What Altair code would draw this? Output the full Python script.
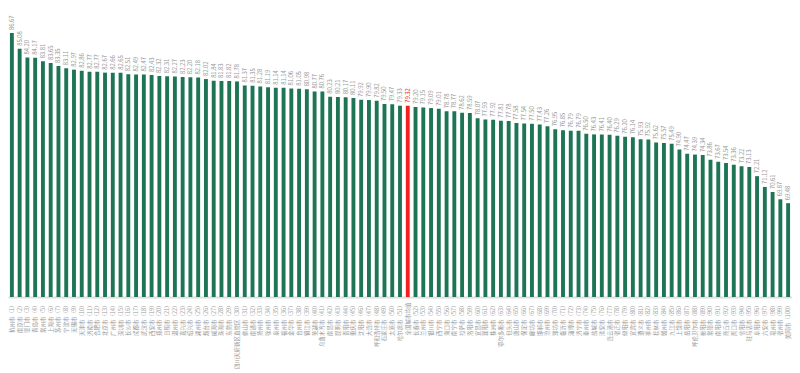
import altair as alt
import pandas as pd

cities = [
    "杭州市", "南京市", "厦门市", "青岛市", "常州市", "上海市", "苏州市", "宁波市", "无锡市", "天津市",
    "济南市", "合肥市", "北京市", "广州市", "深圳市", "长沙市", "成都市", "武汉市", "西安市", "郑州市",
    "日照市", "温州市", "嘉兴市", "绍兴市", "湖州市", "烟台市", "威海市", "珠海市", "东莞市", "四川天府新区直管区",
    "佛山市", "南通市", "扬州市", "徐州市", "泉州市", "福州市", "金华市", "台州市", "镇江市", "芜湖市",
    "乌鲁木齐市", "南昌市", "昆明市", "贵阳市", "重庆市", "沈阳市", "大连市", "呼和浩特市", "石家庄市", "太原市",
    "哈尔滨市", "长春市", "兰州市", "银川市", "西宁市", "海口市", "南宁市", "拉萨市", "洛阳市", "宜昌市",
    "襄阳市", "株洲市", "鄂尔多斯市", "包头市", "唐山市", "保定市", "廊坊市", "邯郸市", "沧州市", "潍坊市",
    "临沂市", "淄博市", "济宁市", "泰州市", "盐城市", "淮安市", "连云港市", "宿迁市", "绵阳市", "宜宾市",
    "遵义市", "柳州市", "桂林市", "赣州市", "九江市", "上饶市", "岳阳市", "呼伦贝尔市", "衡阳市", "常德市",
    "南阳市", "商丘市", "周口市", "信阳市", "驻马店市", "阜阳市", "六安市", "亳州市", "宿州市", "黄冈市",
]
ranks = list(range(1, 101))
scores = [
    86.67, 85.08, 84.20, 84.17, 83.81, 83.65, 83.35, 83.11, 82.97, 82.86,
    82.77, 82.77, 82.67, 82.66, 82.65, 82.51, 82.49, 82.47, 82.43, 82.32,
    82.31, 82.27, 82.23, 82.20, 82.18, 82.02, 81.84, 81.83, 81.82, 81.78,
    81.37, 81.35, 81.28, 81.19, 81.14, 81.14, 81.06, 81.05, 80.98, 80.77,
    80.76, 80.23, 80.21, 80.17, 80.11, 79.92, 79.90, 79.82, 79.50, 79.47,
    79.33, 79.20, 79.15, 79.09, 79.01, 78.78, 78.77, 78.62, 78.59, 78.07,
    77.93, 77.92, 77.81, 77.78, 77.58, 77.54, 77.50, 77.43, 77.26, 76.95,
    76.85, 76.79, 76.79, 76.50, 76.43, 76.41, 76.40, 76.29, 76.20, 76.14,
    75.93, 75.92, 75.62, 75.57, 75.49, 74.90, 74.47, 74.39, 74.34, 73.86,
    73.67, 73.54, 73.36, 73.22, 73.13, 72.21, 71.12, 70.61, 69.87, 69.48,
]
avg_label = "全国城市均值"
avg_value = 79.32
avg_after_rank = 51

labels = [f"{c}（{r}）" for c, r in zip(cities, ranks)]
labels = labels[:avg_after_rank] + [avg_label] + labels[avg_after_rank:]
values = scores[:avg_after_rank] + [avg_value] + scores[avg_after_rank:]
kinds = ["city"] * avg_after_rank + ["avg"] + ["city"] * (100 - avg_after_rank)
df = pd.DataFrame({"label": labels, "value": values, "kind": kinds})

FONT = "Noto Sans CJK SC"

x = alt.X(
    "label:N",
    sort=None,
    scale=alt.Scale(paddingInner=0.5, paddingOuter=0.25),
    axis=alt.Axis(
        title=None, labelAngle=-90, labelFontSize=5.5, labelColor="#999999",
        labelFont=FONT, ticks=False, domainColor="#dddddd", domainWidth=2,
        labelPadding=5, labelOverlap=False, labelLimit=200,
    ),
)
y = alt.Y("value:Q", scale=alt.Scale(domain=[60, 89.2], nice=False, zero=False), axis=None)

bars = alt.Chart(df).mark_bar().encode(
    x=x,
    y=y,
    y2=alt.datum(60),
    color=alt.Color(
        "kind:N",
        scale=alt.Scale(domain=["city", "avg"], range=["#1d7556", "#f2201e"]),
        legend=None,
    ),
)

text = alt.Chart(df).mark_text(
    angle=270, align="left", baseline="middle", dx=3, fontSize=5.8, font=FONT
).encode(
    x=x,
    y=y,
    text=alt.Text("value:Q", format=".2f"),
    color=alt.condition(alt.datum.kind == "avg", alt.value("#f2201e"), alt.value("#999999")),
)

chart = (
    alt.layer(bars, text)
    .properties(width=784, height=289, padding=0)
    .configure_view(stroke=None)
)

chart.save("out.html", embed_options={"renderer": "svg", "actions": False})
